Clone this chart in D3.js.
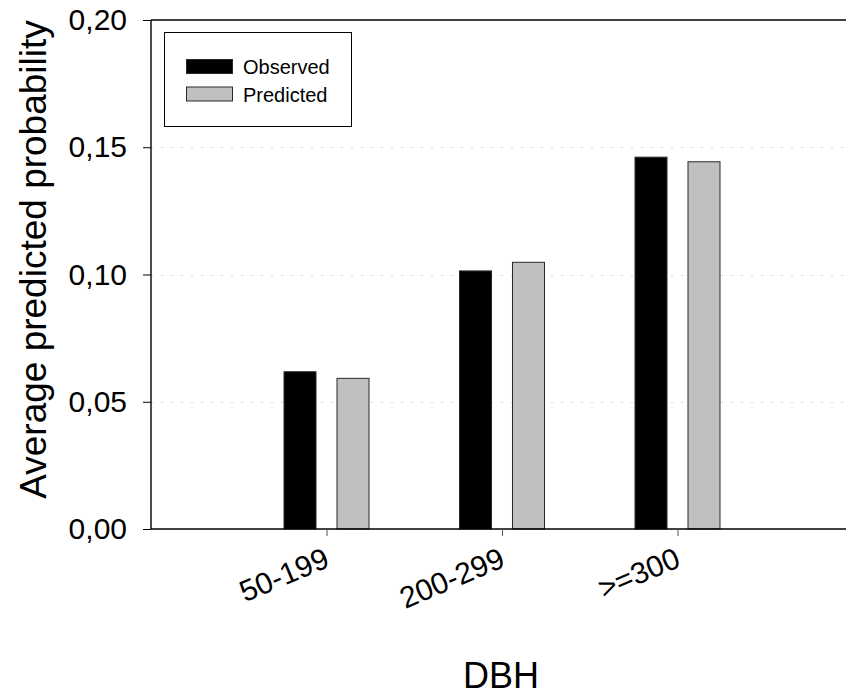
<!DOCTYPE html>
<html>
<head>
<meta charset="utf-8">
<script src="https://cdn.jsdelivr.net/npm/d3@7"></script>
<style>
  html, body { margin: 0; padding: 0; background: #fff; }
  svg { display: block; font-family: "Liberation Sans", Arial, sans-serif; }
</style>
</head>
<body>
<svg id="chart" width="846" height="695"></svg>
<script>
const categories = ["50-199", "200-299", ">=300"];
const series = ["Observed", "Predicted"];
const observed = [0.0618, 0.1014, 0.1461];
const predicted = [0.0592, 0.1048, 0.1443];
const yTicks = [0, 0.05, 0.10, 0.15, 0.20];
const gridTicks = [0.05, 0.10, 0.15];
const colors = { Observed: "#000000", Predicted: "#c0c0c0" };

(function () {
const svg = d3.select("#chart");
const pLeft = 151, pRight = 853, pTop = 20, pBottom = 529;

const x = d3.scalePoint().domain(categories).range([pLeft, pRight]).padding(1);
const xSub = d3.scaleBand().domain(series).range([-42.5, 42.5]).paddingInner(0.396);
const y = d3.scaleLinear().domain([0, 0.20]).range([pBottom, pTop]);

const fmt = d => d.toFixed(2).replace(".", ",");

// gridlines
svg.append("g").selectAll("line").data(gridTicks).join("line")
  .attr("x1", pLeft).attr("x2", 846)
  .attr("y1", d => Math.round(y(d)) + 0.5).attr("y2", d => Math.round(y(d)) + 0.5)
  .attr("stroke", "#d6d6d6").attr("stroke-width", 1)
  .attr("stroke-dasharray", "2,8");

// bars
const data = categories.map((c, i) => ({ cat: c, Observed: observed[i], Predicted: predicted[i] }));
const groups = svg.append("g").selectAll("g").data(data).join("g")
  .attr("transform", d => `translate(${x(d.cat)},0)`);
groups.selectAll("rect").data(d => series.map(s => ({ s, v: d[s] }))).join("rect")
  .attr("x", d => xSub(d.s))
  .attr("width", xSub.bandwidth())
  .attr("y", d => y(d.v))
  .attr("height", d => y(0) - y(d.v))
  .attr("fill", d => colors[d.s])
  .attr("stroke", "#2a2a2a")
  .attr("stroke-width", 1);

// top border line
svg.append("line")
  .attr("x1", pLeft).attr("x2", 846).attr("y1", pTop).attr("y2", pTop)
  .attr("stroke", "#000").attr("stroke-width", 1.4);

// y axis
const yAxis = d3.axisLeft(y).tickValues(yTicks).tickFormat(fmt).tickSize(8).tickPadding(16);
const gy = svg.append("g").attr("transform", `translate(${pLeft},0)`).call(yAxis);
gy.select(".domain").attr("stroke", "#000").attr("stroke-width", 1.4)
  .attr("d", `M0,${pTop}V${pBottom}`);
gy.selectAll(".tick line").attr("stroke", "#000");
gy.selectAll(".tick text").attr("font-size", 30).attr("fill", "#000")
  .attr("font-family", "Liberation Sans, Arial, sans-serif");

// x axis
const xAxis = d3.axisBottom(x).tickSize(7).tickSizeOuter(0);
const gx = svg.append("g").attr("transform", `translate(0,${pBottom})`).call(xAxis);
gx.select(".domain").attr("stroke", "#000").attr("stroke-width", 1.4)
  .attr("d", `M${pLeft},0H846`);
gx.selectAll(".tick line").attr("stroke", "#555");
gx.selectAll(".tick text")
  .attr("font-size", 30).attr("fill", "#000")
  .attr("font-family", "Liberation Sans, Arial, sans-serif")
  .attr("text-anchor", "end")
  .attr("dy", null)
  .attr("y", 0)
  .attr("transform", "translate(4,37) rotate(-23)");

// axis titles
svg.append("text")
  .attr("transform", `translate(46,259.5) rotate(-90)`)
  .attr("text-anchor", "middle")
  .attr("font-size", 37)
  .attr("fill", "#000")
  .text("Average predicted probability");

svg.append("text")
  .attr("x", 501).attr("y", 688)
  .attr("text-anchor", "middle")
  .attr("font-size", 36)
  .attr("fill", "#000")
  .text("DBH");

// legend
const lg = svg.append("g");
lg.append("rect").attr("x", 164.5).attr("y", 32.5).attr("width", 187).attr("height", 94)
  .attr("fill", "#fff").attr("stroke", "#000").attr("stroke-width", 1);
const items = lg.selectAll("g.item").data(series).join("g").attr("class", "item")
  .attr("transform", (d, i) => `translate(0,${i * 27.5})`);
items.append("rect")
  .attr("x", 186.5).attr("y", 59.5).attr("width", 46).attr("height", 14)
  .attr("fill", d => colors[d]).attr("stroke", "#2a2a2a").attr("stroke-width", 1);
items.append("text")
  .attr("x", 243).attr("y", 74)
  .attr("font-size", 20).attr("fill", "#000")
  .text(d => d);
})();
</script>
</body>
</html>
